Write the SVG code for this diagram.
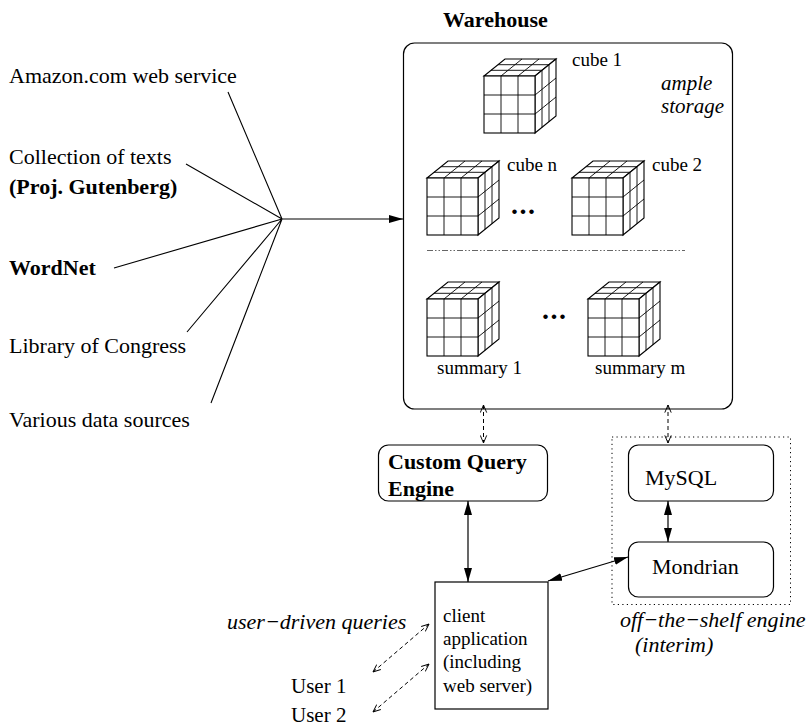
<svg xmlns="http://www.w3.org/2000/svg" xmlns:xlink="http://www.w3.org/1999/xlink" width="812" height="727" viewBox="0 0 812 727">
  <style>
    text { font-family: "Liberation Serif", "Times New Roman", serif; fill: #000; }
    .t22 { font-size: 22px; }
    .b22 { font-size: 22px; font-weight: bold; }
    .i22 { font-size: 22px; font-style: italic; }
    .lab { font-size: 19px; }
    .dots { font-size: 28px; font-weight: bold; letter-spacing: 1.5px; }
    .box { fill: #fff; stroke: #000; stroke-width: 1.2; }
    .line { fill: none; stroke: #000; stroke-width: 1.1; }
    .solid { fill: none; stroke: #000; stroke-width: 1.2; marker-start: url(#head); marker-end: url(#head); }
    .dash { fill: none; stroke: #000; stroke-width: 1; stroke-dasharray: 4 3; marker-start: url(#open); marker-end: url(#open); }
    .cube { fill: #fff; stroke: #000; stroke-width: 1.1; stroke-linejoin: miter; }
    .grid { fill: none; stroke: #000; stroke-width: 0.9; }
  </style>
  <defs>
    <marker id="head" viewBox="0 0 14 8" refX="14" refY="4" markerWidth="14" markerHeight="8" markerUnits="userSpaceOnUse" orient="auto-start-reverse">
      <path d="M0,0 L14,4 L0,8 z" fill="#000"/>
    </marker>
    <marker id="open" viewBox="0 0 10 10" refX="9.5" refY="5" markerWidth="8" markerHeight="8" markerUnits="userSpaceOnUse" orient="auto-start-reverse">
      <path d="M0,1 L9.5,5 L0,9" fill="none" stroke="#000" stroke-width="1.2"/>
    </marker>
    <!-- 3x3x3 data cube, front top-left corner at the origin -->
    <g id="cube">
      <path class="cube" d="M0,0 L21,-17 L72,-17 L51,0 z"/>
      <path class="cube" d="M51,0 L72,-17 L72,40 L51,57 z"/>
      <rect class="cube" x="0" y="0" width="51" height="57"/>
      <path class="grid" d="M17,0 V57 M34,0 V57 M0,19 H51 M0,38 H51"/>
      <path class="grid" d="M7,-5.7 H58 M14,-11.3 H65 M17,0 L38,-17 M34,0 L55,-17"/>
      <path class="grid" d="M58,-5.7 V51.3 M65,-11.3 V45.7 M51,19 L72,2 M51,38 L72,21"/>
    </g>
  </defs>

  <!-- data sources -->
  <g id="sources">
    <text class="t22" x="9" y="83">Amazon.com web service</text>
    <text class="t22" x="9" y="164">Collection of texts</text>
    <text class="b22" x="9" y="194">(Proj. Gutenberg)</text>
    <text class="b22" x="9" y="275">WordNet</text>
    <text class="t22" x="9" y="353">Library of Congress</text>
    <text class="t22" x="9" y="427">Various data sources</text>
  </g>

  <!-- warehouse -->
  <g id="warehouse">
    <text class="b22" x="443" y="27">Warehouse</text>
    <rect class="box" x="403.5" y="43" width="329" height="366" rx="11" ry="11"/>
    <use xlink:href="#cube" x="484" y="76"/>
    <text class="lab" x="572" y="66">cube 1</text>
    <text class="i22" x="661" y="90" style="font-size:21px">ample</text>
    <text class="i22" x="661" y="113" style="font-size:21px">storage</text>
    <use xlink:href="#cube" x="427" y="178"/>
    <text class="lab" x="507" y="171">cube n</text>
    <text class="dots" x="511" y="214">...</text>
    <use xlink:href="#cube" x="572" y="178"/>
    <text class="lab" x="652" y="171">cube 2</text>
    <line x1="427" y1="250.5" x2="685" y2="250.5" stroke="#666" stroke-width="1.2" stroke-dasharray="6 2 1.5 2 1.5 2"/>
    <use xlink:href="#cube" x="427" y="299"/>
    <text class="lab" x="437" y="374">summary 1</text>
    <text class="dots" x="542" y="318.5">...</text>
    <use xlink:href="#cube" x="588" y="299"/>
    <text class="lab" x="595" y="374">summary m</text>
  </g>

  <!-- custom engine -->
  <g id="custom-engine">
    <rect class="box" x="378.5" y="445" width="169" height="56" rx="10" ry="10"/>
    <text class="b22" x="388" y="469">Custom Query</text>
    <text class="b22" x="388" y="496">Engine</text>
  </g>

  <!-- off-the-shelf engine -->
  <g id="shelf-engine">
    <rect x="612" y="437" width="178.5" height="167.5" fill="none" stroke="#000" stroke-width="1" stroke-dasharray="1.2 3.3"/>
    <text class="i22" x="620" y="627">off−the−shelf engine</text>
    <text class="i22" x="635" y="652">(interim)</text>
  </g>
  <g id="mysql">
    <rect class="box" x="628.5" y="445" width="145" height="56" rx="10" ry="10"/>
    <text class="t22" x="645" y="485">MySQL</text>
  </g>
  <g id="mondrian">
    <rect class="box" x="628.5" y="542" width="145" height="55" rx="10" ry="10"/>
    <text class="t22" x="652" y="574">Mondrian</text>
  </g>

  <!-- client -->
  <g id="client">
    <rect class="box" x="435" y="582" width="113" height="127"/>
    <text class="lab" x="443" y="621.5">client</text>
    <text class="lab" x="443" y="645">application</text>
    <text class="lab" x="443" y="668">(including</text>
    <text class="lab" x="443" y="691.5">web server)</text>
  </g>

  <!-- users -->
  <g id="users">
    <text class="i22" x="227" y="629">user−driven queries</text>
    <text class="t22" x="291" y="693" style="font-size:21px">User 1</text>
    <text class="t22" x="291" y="722" style="font-size:21px">User 2</text>
  </g>

  <!-- connectors -->
  <g id="connectors">
    <path class="line" d="M228,92 L282,219 M186,164 L282,219 M114,268 L282,219 M187,332 L282,219 M211,403 L282,219"/>
    <line x1="282" y1="219" x2="403" y2="219" stroke="#000" stroke-width="1.1" marker-end="url(#head)"/>
    <line class="dash" x1="483.5" y1="405" x2="483.5" y2="443"/>
    <line class="dash" x1="668" y1="405" x2="668" y2="443"/>
    <line class="solid" x1="468" y1="501" x2="468" y2="582"/>
    <line class="solid" x1="668" y1="501" x2="668" y2="542"/>
    <line class="solid" x1="548" y1="581" x2="628" y2="557"/>
    <line class="dash" x1="373" y1="672" x2="429" y2="624"/>
    <line class="dash" x1="373" y1="712" x2="429" y2="664"/>
  </g>
</svg>
